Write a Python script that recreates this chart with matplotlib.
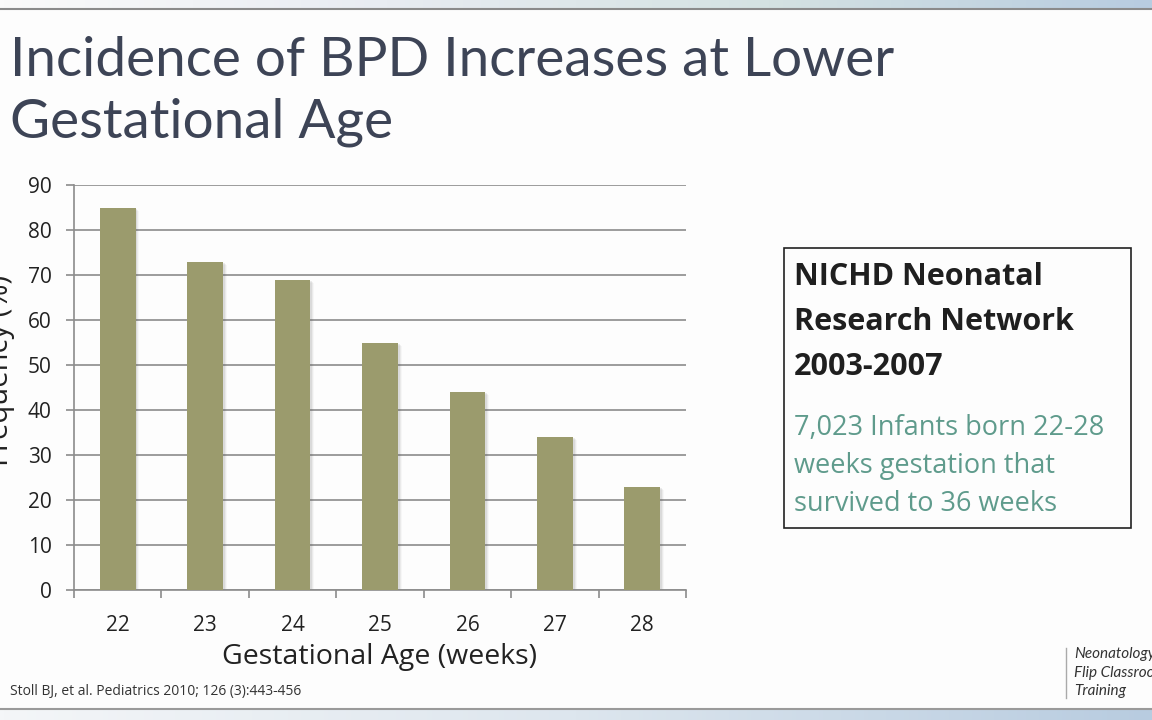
import numpy as np
import matplotlib.pyplot as plt
from matplotlib.patches import Rectangle

weeks = ['22', '23', '24', '25', '26', '27', '28']
bpd_pct = [85, 73, 69, 55, 44, 34, 23]
yticks = [0, 10, 20, 30, 40, 50, 60, 70, 80, 90]

fig = plt.figure(figsize=(11.52, 7.2), dpi=100)
fig.patch.set_facecolor('#fdfdfd')

# top / bottom slide bands
band = np.linspace(0, 1, 256).reshape(1, -1)
top = fig.add_axes([0, 1 - 8 / 720, 1, 8 / 720])
top.imshow(band, aspect='auto', cmap=plt.matplotlib.colors.LinearSegmentedColormap.from_list(
    'b', ['#fafafa', '#e8ecf2', '#d4e2e2', '#b8cce0']))
top.axis('off')
bot = fig.add_axes([0, 0, 1, 10 / 720])
bot.imshow(band, aspect='auto', cmap=plt.matplotlib.colors.LinearSegmentedColormap.from_list(
    'b2', ['#f4f6f8', '#dde6ee', '#b8cce0']))
bot.axis('off')
fig.add_artist(plt.Line2D([0, 1], [1 - 9 / 720, 1 - 9 / 720], color='#8a8a8a', lw=1.5))
fig.add_artist(plt.Line2D([0, 1], [11 / 720, 11 / 720], color='#9a9a9a', lw=1.5))

# title
fig.text(10 / 1152, 1 - 60 / 720, 'Incidence of BPD Increases at Lower', fontsize=39.5,
         family='Lato', color='#3d4456', va='center')
fig.text(10 / 1152, 1 - 122 / 720, 'Gestational Age', fontsize=39.5,
         family='Lato', color='#3d4456', va='center')

# chart
ax = fig.add_axes([74 / 1152, 1 - 590 / 720, 612 / 1152, 405 / 720])
ax.set_facecolor('none')
x = np.arange(len(weeks))
w = 0.41
for xi, v in zip(x, bpd_pct):
    for k, a in enumerate([0.10, 0.07, 0.04]):
        ax.add_patch(Rectangle((xi - w / 2 + 0.02 + k * 0.012, 0), w, v - 0.3 - k * 0.2,
                               color='#555555', alpha=a, lw=0, zorder=2))
ax.bar(x, bpd_pct, width=w, color='#9b9b6d', zorder=3)
ax.set_xlim(-0.5, 6.5)
ax.set_ylim(0, 90)
ax.set_yticks(yticks)
ax.set_xticks(x)
ax.set_xticklabels(weeks)
ax.set_xticks(np.arange(-0.5, 7, 1), minor=True)
ax.grid(axis='y', color='#8c8c8c', lw=1.2, zorder=0)
for s in ['top', 'right']:
    ax.spines[s].set_visible(False)
for s in ['left', 'bottom']:
    ax.spines[s].set_color('#8c8c8c')
    ax.spines[s].set_linewidth(1.2)
ax.tick_params(axis='x', which='major', length=0, pad=18, labelsize=15, labelcolor='#222222')
ax.tick_params(axis='x', which='minor', length=6, color='#8c8c8c', width=1.2)
ax.tick_params(axis='y', length=6, color='#8c8c8c', width=1.2, pad=10, labelsize=15,
               labelcolor='#222222')
for lab in ax.get_xticklabels() + ax.get_yticklabels():
    lab.set_family('Open Sans')
ax.set_xlabel('Gestational Age (weeks)', fontsize=20.5, family='Open Sans', color='#222222',
              labelpad=5)
fig.text(-14 / 1152, 1 - 370 / 720, 'Frequency (%)', fontsize=21, family='Open Sans',
         color='#222222', rotation=90, va='center', ha='left')

# info box
fig.add_artist(Rectangle((784 / 1152, 1 - 528 / 720), 347 / 1152, 280 / 720,
                         fill=False, ec='#222222', lw=1.2))
for i, t in enumerate(['NICHD Neonatal', 'Research Network', '2003-2007']):
    fig.text(794 / 1152, 1 - (277 + 45 * i) / 720, t, fontsize=22, family='Open Sans',
             weight='bold', color='#1f1f1f', va='center')
for i, t in enumerate(['7,023 Infants born 22-28', 'weeks gestation that',
                       'survived to 36 weeks']):
    fig.text(794 / 1152, 1 - (428 + 38 * i) / 720, t, fontsize=19.5, family='Open Sans',
             color='#5f9b8c', va='center')

fig.text(10 / 1152, 1 - 692 / 720, 'Stoll BJ, et al. Pediatrics 2010; 126 (3):443-456',
         fontsize=10, family='Open Sans', color='#333333', va='center')

# logo text (cut off at the edge, as in the slide)
fig.add_artist(plt.Line2D([1066 / 1152, 1066 / 1152], [1 - 698 / 720, 1 - 648 / 720],
                          color='#aaaaaa', lw=1))
for i, t in enumerate(['Neonatology', 'Flip Classroom', 'Training']):
    fig.text(1074 / 1152, 1 - (654 + 18.5 * i) / 720, t, fontsize=11, family='Lato',
             style='italic', color='#333333', va='center')

fig.savefig('out.png', dpi=100, facecolor=fig.get_facecolor())
